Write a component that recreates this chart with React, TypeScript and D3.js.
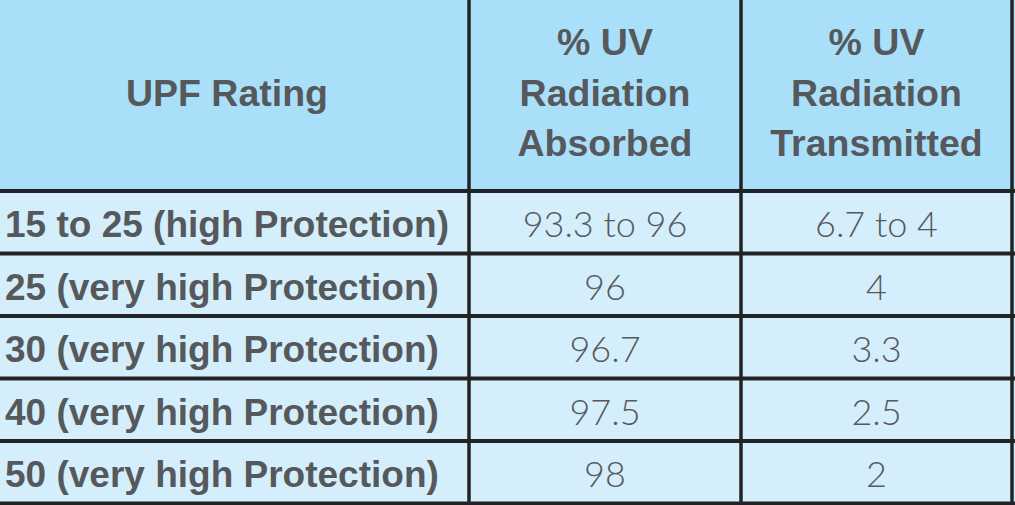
import * as d3 from 'd3'

const headers = [['UPF Rating'], ['% UV', 'Radiation', 'Absorbed'], ['% UV', 'Radiation', 'Transmitted']]
const ratings = [
  '15 to 25 (high Protection)',
  '25 (very high Protection)',
  '30 (very high Protection)',
  '40 (very high Protection)',
  '50 (very high Protection)',
]
const absorbed = ['93.3 to 96', '96', '96.7', '97.5', '98']
const transmitted = ['6.7 to 4', '4', '3.3', '2.5', '2']

const W = 1015
const H = 505
const headerH = 191
const colEdges = [0, 469, 741, 1012]
const textColor = '#56595c'
const lineColor = '#222324'

export default function App() {
  const y = d3.scaleBand<number>().domain(d3.range(ratings.length)).range([headerH, H - 1.5])
  const cols = [ratings, absorbed, transmitted]
  const headerLineY = d3.scaleLinear().domain([0, 2]).range([55, 156])

  return (
    <svg width={W} height={H} style={{ position: 'absolute', left: 0, top: 0, background: '#d4eefb' }}>
      <rect x={0} y={0} width={W} height={headerH} fill="#aadffa" />
      <rect x={0} y={headerH} width={W} height={H - headerH} fill="#d4eefb" />

      {headers.map((lines, ci) => {
        const cx = (colEdges[ci] + colEdges[ci + 1]) / 2
        return lines.map((t, li) => (
          <text
            key={`h${ci}${li}`}
            x={ci === 0 ? 227 : cx}
            y={lines.length === 1 ? 106 : headerLineY(li)}
            textAnchor="middle"
            fontFamily="'Liberation Sans', Arial, sans-serif"
            fontWeight={700}
            fontSize={37.5}
            fill={textColor}
          >
            {t}
          </text>
        ))
      })}

      {cols.map((vals, ci) =>
        vals.map((v, ri) => {
          const cx = (colEdges[ci] + colEdges[ci + 1]) / 2
          return (
            <text
              key={`c${ci}${ri}`}
              x={ci === 0 ? 5 : cx}
              y={(y(ri) ?? 0) + 46}
              textAnchor={ci === 0 ? 'start' : 'middle'}
              fontFamily={ci === 0 ? "'Liberation Sans', Arial, sans-serif" : "Lato, 'Open Sans', sans-serif"}
              fontWeight={ci === 0 ? 700 : 300}
              fontSize={ci === 0 ? 37 : 36}
              fill={textColor}
            >
              {v}
            </text>
          )
        })
      )}

      {/* horizontal rules */}
      {[headerH, ...ratings.map((_, i) => (y(i) ?? 0) + y.bandwidth())].map((ly, i) => (
        <line key={`hl${i}`} x1={0} x2={W} y1={ly} y2={ly} stroke={lineColor} strokeWidth={4} />
      ))}
      {/* vertical rules */}
      {colEdges.slice(1).map((lx, i) => (
        <line key={`vl${i}`} x1={lx} x2={lx} y1={0} y2={H} stroke={lineColor} strokeWidth={3.5} />
      ))}
    </svg>
  )
}
